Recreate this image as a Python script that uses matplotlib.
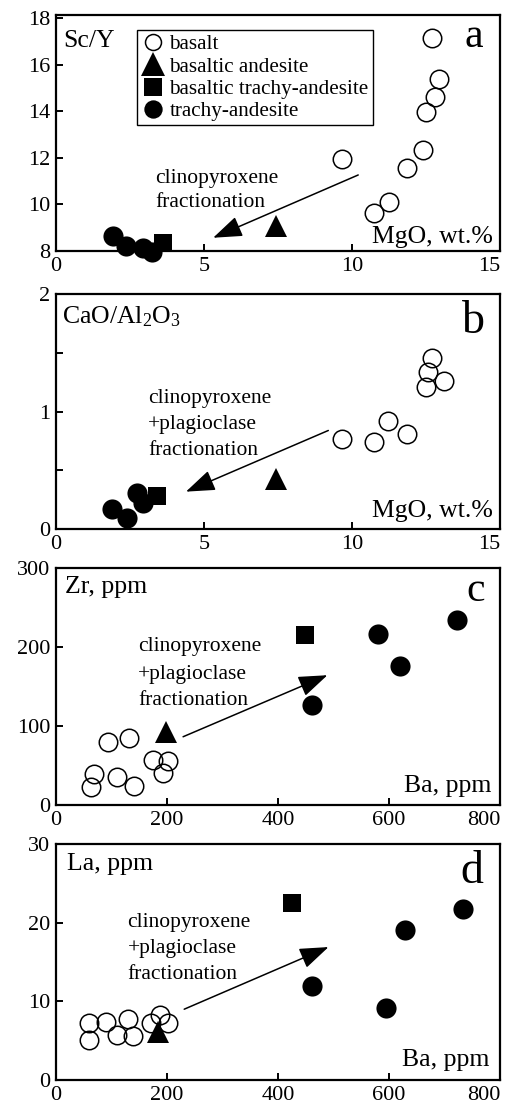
import matplotlib
matplotlib.use("Agg")
import matplotlib.pyplot as plt
from matplotlib.lines import Line2D

plt.rcParams["font.family"] = ["Liberation Serif", "DejaVu Serif"]
plt.rcParams["mathtext.fontset"] = "custom"
plt.rcParams["mathtext.rm"] = "Liberation Serif"
plt.rcParams["mathtext.it"] = "Liberation Serif:italic"

# ---------------- (a) Sc/Y vs MgO ----------------
a_basalt_mgo = [12.69, 12.95, 12.80, 12.50, 12.41, 11.87, 9.67, 11.26, 10.74]
a_basalt_scy = [17.15, 15.40, 14.61, 13.99, 12.34, 11.58, 11.94, 10.12, 9.62]
a_bas_and_mgo = [7.43]
a_bas_and_scy = [9.08]
a_bta_mgo = [3.63]
a_bta_scy = [8.33]
a_ta_mgo = [1.94, 2.36, 2.93, 3.23]
a_ta_scy = [8.65, 8.22, 8.12, 7.97]
a_arrow = [(10.21, 11.27), (5.31, 8.57)]

# ---------------- (b) CaO/Al2O3 vs MgO ----------------
b_basalt_mgo = [12.71, 12.56, 13.12, 12.49, 11.23, 11.87, 9.67, 10.74]
b_basalt_ratio = [1.46, 1.34, 1.26, 1.21, 0.92, 0.81, 0.77, 0.74]
b_bas_and_mgo = [7.43]
b_bas_and_ratio = [0.43]
b_bta_mgo = [3.40]
b_bta_ratio = [0.28]
b_ta_mgo = [1.88, 2.41, 2.75, 2.93]
b_ta_ratio = [0.17, 0.10, 0.31, 0.22]
b_arrow = [(9.20, 0.84), (4.39, 0.32)]

# ---------------- (c) Zr vs Ba ----------------
c_basalt_ba = [63, 69, 94, 132, 110, 140, 174, 201, 193]
c_basalt_zr = [23, 39, 80, 85, 36, 24, 57, 56, 41]
c_bas_and_ba = [199]
c_bas_and_zr = [93]
c_bta_ba = [449]
c_bta_zr = [215]
c_ta_ba = [461, 580, 620, 722]
c_ta_zr = [127, 217, 176, 235]
c_arrow = [(229, 86.5), (489, 164.5)]

# ---------------- (d) La vs Ba ----------------
d_basalt_ba = [60, 60, 90, 110, 130, 139, 172, 187, 202]
d_basalt_la = [5.1, 7.3, 7.4, 5.7, 7.7, 5.6, 7.2, 8.2, 7.3]
d_bas_and_ba = [184]
d_bas_and_la = [6.1]
d_bta_ba = [426]
d_bta_la = [22.5]
d_ta_ba = [461, 594, 629, 734]
d_ta_la = [11.9, 9.2, 19.1, 21.7]
d_arrow = [(231, 9.0), (491, 16.9)]

legend_labels = ["basalt", "basaltic andesite",
                 "basaltic trachy-andesite", "trachy-andesite"]
trend_lines = ["clinopyroxene", "+plagioclase", "fractionation"]

W, H = 509, 1104
fig = plt.figure(figsize=(W / 100, H / 100), dpi=100)
fig.patch.set_facecolor("white")

OPEN = dict(marker="o", ms=13.3, mfc="none", mec="k", mew=1.1, ls="none",
            clip_on=False, zorder=3)
FILLED = dict(marker="o", ms=14.5, mfc="k", mec="k", mew=0, ls="none",
              clip_on=False, zorder=4)
SQUARE = dict(marker="s", ms=12.7, mfc="k", mec="k", mew=0, ls="none",
              clip_on=False, zorder=4)
TRI = dict(marker="^", ms=16, mfc="k", mec="k", mew=0, ls="none",
           clip_on=False, zorder=5)

TICK_FS = 16
LABEL_FS = 18.5
TEXT_FS = 15.5


def make_axes(left, top, right, bottom):
    ax = fig.add_axes([left / W, 1 - bottom / H, (right - left) / W,
                       (bottom - top) / H])
    for s in ax.spines.values():
        s.set_linewidth(1.6)
    ax.tick_params(direction="in", length=5, width=1.4, labelsize=TICK_FS,
                   pad=4, top=False, right=False)
    return ax


def finish_ticks(ax):
    # keep the right-most x label inside the frame edge
    labels = ax.get_xticklabels()
    labels[-1].set_horizontalalignment("right")


def arrow(ax, pts):
    (x0, y0), (x1, y1) = pts
    ax.annotate("", xy=(x1, y1), xytext=(x0, y0),
                arrowprops=dict(arrowstyle="-|>,head_length=1.8,head_width=0.65",
                                mutation_scale=10, lw=1.1, color="k",
                                shrinkA=0, shrinkB=0), zorder=2)


def trend_text(ax, x, ys, lines):
    for y, t in zip(ys, lines):
        ax.text(x, y, t, transform=ax.transAxes, fontsize=TEXT_FS,
                ha="left", va="baseline")


def corner_texts(ax, ylab, ylab_pos, xlab, xlab_pos, letter, letter_pos,
                 letter_fs):
    ax.text(*ylab_pos, ylab, transform=ax.transAxes, fontsize=LABEL_FS,
            ha="left", va="baseline")
    ax.text(*xlab_pos, xlab, transform=ax.transAxes, fontsize=LABEL_FS,
            ha="right", va="baseline")
    ax.text(*letter_pos, letter, transform=ax.transAxes, fontsize=letter_fs,
            ha="right", va="baseline")


# ---- panel a ----
ax = make_axes(56, 15, 500, 251)
ax.plot(a_basalt_mgo, a_basalt_scy, **OPEN)
ax.plot(a_ta_mgo, a_ta_scy, **FILLED)
ax.plot(a_bta_mgo, a_bta_scy, **SQUARE)
ax.plot(a_bas_and_mgo, a_bas_and_scy, **TRI)
arrow(ax, a_arrow)
ax.set_xlim(0, 15)
ax.set_ylim(8, 18.15)
ax.set_xticks([0, 5, 10, 15])
ax.set_yticks([8, 10, 12, 14, 16, 18])
finish_ticks(ax)
corner_texts(ax, "Sc/Y", (0.016, 0.866), "MgO, wt.%", (0.984, 0.035),
             "a", (0.961, 0.866), 30)
trend_text(ax, 0.223, [0.289, 0.185], [trend_lines[0], trend_lines[2]])

handles = [
    Line2D([], [], marker="o", ms=11.5, mfc="none", mec="k", mew=1.1, ls="none"),
    Line2D([], [], marker="^", ms=17, mfc="k", mec="k", mew=0, ls="none"),
    Line2D([], [], marker="s", ms=12.7, mfc="k", mec="k", mew=0, ls="none"),
    Line2D([], [], marker="o", ms=13.2, mfc="k", mec="k", mew=0, ls="none"),
]
leg = ax.legend(handles, legend_labels, loc="upper left",
                bbox_to_anchor=(0.182, 0.935), borderaxespad=0,
                fontsize=15.2, frameon=True, fancybox=False, framealpha=1,
                edgecolor="k", borderpad=0.2, handlelength=1.1,
                handletextpad=0.25, labelspacing=0.12)
leg.get_frame().set_linewidth(1.0)

# ---- panel b ----
ax = make_axes(56, 294, 500, 529.3)
ax.plot(b_basalt_mgo, b_basalt_ratio, **OPEN)
ax.plot(b_ta_mgo, b_ta_ratio, **FILLED)
ax.plot(b_bta_mgo, b_bta_ratio, **SQUARE)
ax.plot(b_bas_and_mgo, b_bas_and_ratio, **TRI)
arrow(ax, b_arrow)
ax.set_xlim(0, 15)
ax.set_ylim(0, 2)
ax.set_xticks([0, 5, 10, 15])
ax.set_yticks([0, 0.5, 1, 1.5, 2])
ax.set_yticklabels(["0", "", "1", "", "2"])
finish_ticks(ax)
corner_texts(ax, r"CaO/Al$_2$O$_3$", (0.013, 0.875), "MgO, wt.%",
             (0.984, 0.051), "b", (0.966, 0.833), 33)
trend_text(ax, 0.208, [0.535, 0.425, 0.316], trend_lines)

# ---- panel c ----
ax = make_axes(56, 568.3, 500, 805)
ax.plot(c_basalt_ba, c_basalt_zr, **OPEN)
ax.plot(c_ta_ba, c_ta_zr, **FILLED)
ax.plot(c_bta_ba, c_bta_zr, **SQUARE)
ax.plot(c_bas_and_ba, c_bas_and_zr, **TRI)
arrow(ax, c_arrow)
ax.set_xlim(0, 800)
ax.set_ylim(0, 300)
ax.set_xticks([0, 200, 400, 600, 800])
ax.set_yticks([0, 100, 200, 300])
finish_ticks(ax)
corner_texts(ax, "Zr, ppm", (0.020, 0.894), "Ba, ppm", (0.981, 0.056),
             "c", (0.966, 0.862), 30)
trend_text(ax, 0.185, [0.652, 0.531, 0.422], trend_lines)

# ---- panel d ----
ax = make_axes(56, 844, 500, 1080)
ax.plot(d_basalt_ba, d_basalt_la, **OPEN)
ax.plot(d_ta_ba, d_ta_la, **FILLED)
ax.plot(d_bta_ba, d_bta_la, **SQUARE)
ax.plot(d_bas_and_ba, d_bas_and_la, **TRI)
arrow(ax, d_arrow)
ax.set_xlim(0, 800)
ax.set_ylim(0, 30)
ax.set_xticks([0, 200, 400, 600, 800])
ax.set_yticks([0, 10, 20, 30])
finish_ticks(ax)
corner_texts(ax, "La, ppm", (0.024, 0.890), "Ba, ppm", (0.975, 0.059),
             "d", (0.962, 0.835), 33)
trend_text(ax, 0.161, [0.647, 0.537, 0.427], trend_lines)

fig.savefig("out.png", dpi=100, facecolor="white")
